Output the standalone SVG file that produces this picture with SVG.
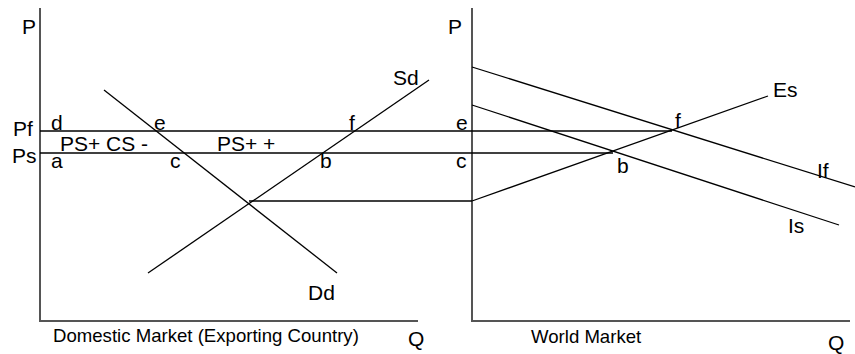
<svg xmlns="http://www.w3.org/2000/svg" width="855" height="354" viewBox="0 0 855 354">
<style>
.axis{stroke:#555;stroke-width:2;fill:none}
.ln{stroke:#000;stroke-width:1.3;fill:none}
text{font-family:"Liberation Sans",Arial,sans-serif;font-size:21px;fill:#000}
text.title{font-size:18.6px}
</style>
<rect width="855" height="354" fill="#fff"/>
<g id="axes">
<path class="axis" d="M40,8 V321 H418"/>
<path class="axis" d="M472,8 V321 H850"/>
</g>
<g id="connectors">
<line class="ln" x1="40" y1="131" x2="672" y2="131"/>
<line class="ln" x1="40" y1="153" x2="613" y2="153"/>
<line class="ln" x1="249" y1="201" x2="472" y2="201"/>
<line class="ln" x1="104" y1="90" x2="337" y2="273"/>
<line class="ln" x1="148" y1="273" x2="429" y2="80"/>
<line class="ln" x1="472" y1="67" x2="855" y2="187"/>
<line class="ln" x1="472" y1="105" x2="839" y2="225"/>
<line class="ln" x1="472" y1="201" x2="768" y2="96"/>
</g>
<g id="labels-domestic">
<text x="22" y="34">P</text>
<text x="393" y="85">Sd</text>
<text x="13" y="136">Pf</text>
<text x="51" y="130">d</text>
<text x="154" y="130">e</text>
<text x="349" y="130">f</text>
<text x="60" y="151">PS+ CS -</text>
<text x="217" y="151">PS+ +</text>
<text x="12" y="163">Ps</text>
<text x="51" y="168">a</text>
<text x="170" y="168">c</text>
<text x="320" y="168">b</text>
<text x="308" y="300">Dd</text>
<text class="title" x="53" y="342">Domestic Market (Exporting Country)</text>
<text x="408" y="346">Q</text>
</g>
<g id="labels-world">
<text x="448" y="34">P</text>
<text x="773" y="97">Es</text>
<text x="456" y="130">e</text>
<text x="675" y="128">f</text>
<text x="456" y="168">c</text>
<text x="617" y="173">b</text>
<text x="817" y="178">If</text>
<text x="788" y="233">Is</text>
<text class="title" x="531" y="343">World Market</text>
<text x="828" y="350">Q</text>
</g>
</svg>
